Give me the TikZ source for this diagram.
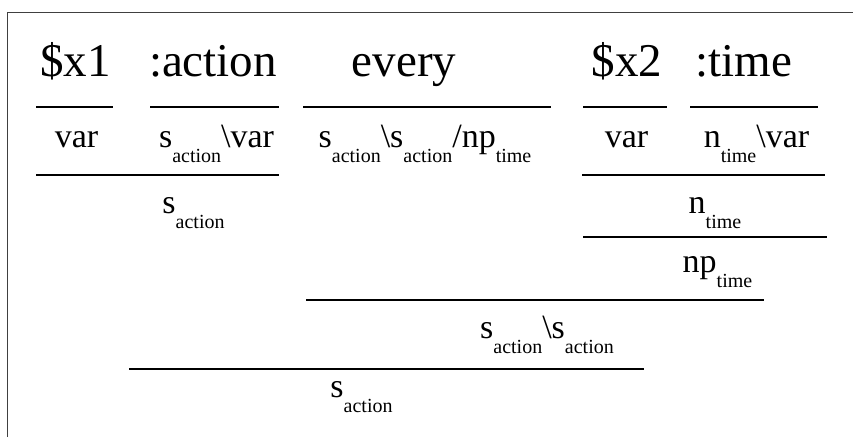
\documentclass[tikz,border=0pt]{standalone}
\usepackage{fontspec}
\setmainfont{LiberationSerif-Regular.ttf}
\newcommand{\lowsub}[1]{\raisebox{-15pt}{\fontsize{20}{20}\selectfont #1}}
\newcommand{\bs}{\textbackslash}
\begin{document}
\begin{tikzpicture}[x=1pt,y=-1pt,
  every node/.style={inner sep=0pt,anchor=base},
  word/.style={font=\fontsize{47}{50}\selectfont},
  cat/.style={font=\fontsize{34}{40}\selectfont},
  rule/.style={line width=1.4pt}]
\useasboundingbox (0,0) rectangle (853,437);
\draw[line width=1pt,black!75] (7,437) -- (7,12) -- (853,12);
% lexical items
\node[word] (x1) at (75.5,76) {\$x1};
\node[word] (act) at (213,76) {:action};
\node[word] (every) at (404,76) {every};
\node[word] (x2) at (627,76) {\$x2};
\node[word] (time) at (744,76) {:time};
\draw[rule] (36,107) -- (113,107);
\draw[rule] (150,107) -- (279,107);
\draw[rule] (303,107) -- (551,107);
\draw[rule] (583,107) -- (667,107);
\draw[rule] (690,107) -- (818,107);
% categories
\node[cat] (x1cat) at (76.5,147) {var};
\node[cat] (actcat) at (216.5,147) {s\lowsub{action}\bs var};
\node[cat] (everycat) at (425,147)
  {s\lowsub{action}\bs s\lowsub{action}/np\lowsub{time}};
\node[cat] (x2cat) at (626.5,147) {var};
\node[cat] (timecat) at (756.5,147) {n\lowsub{time}\bs var};
\draw[rule] (36,175) -- (279,175);
\draw[rule] (582,175) -- (825,175);
% derivation
\node[cat] (sact) at (193.5,213) {s\lowsub{action}};
\node[cat] (ntime) at (715,213) {n\lowsub{time}};
\draw[rule] (583,237) -- (827,237);
\node[cat] (nptime) at (717.5,272) {np\lowsub{time}};
\draw[rule] (306,300) -- (764,300);
\node[cat] (mod) at (547,338) {s\lowsub{action}\bs s\lowsub{action}};
\draw[rule] (129,369) -- (644,369);
\node[cat] (goal) at (361.5,397) {s\lowsub{action}};
\end{tikzpicture}
\end{document}
